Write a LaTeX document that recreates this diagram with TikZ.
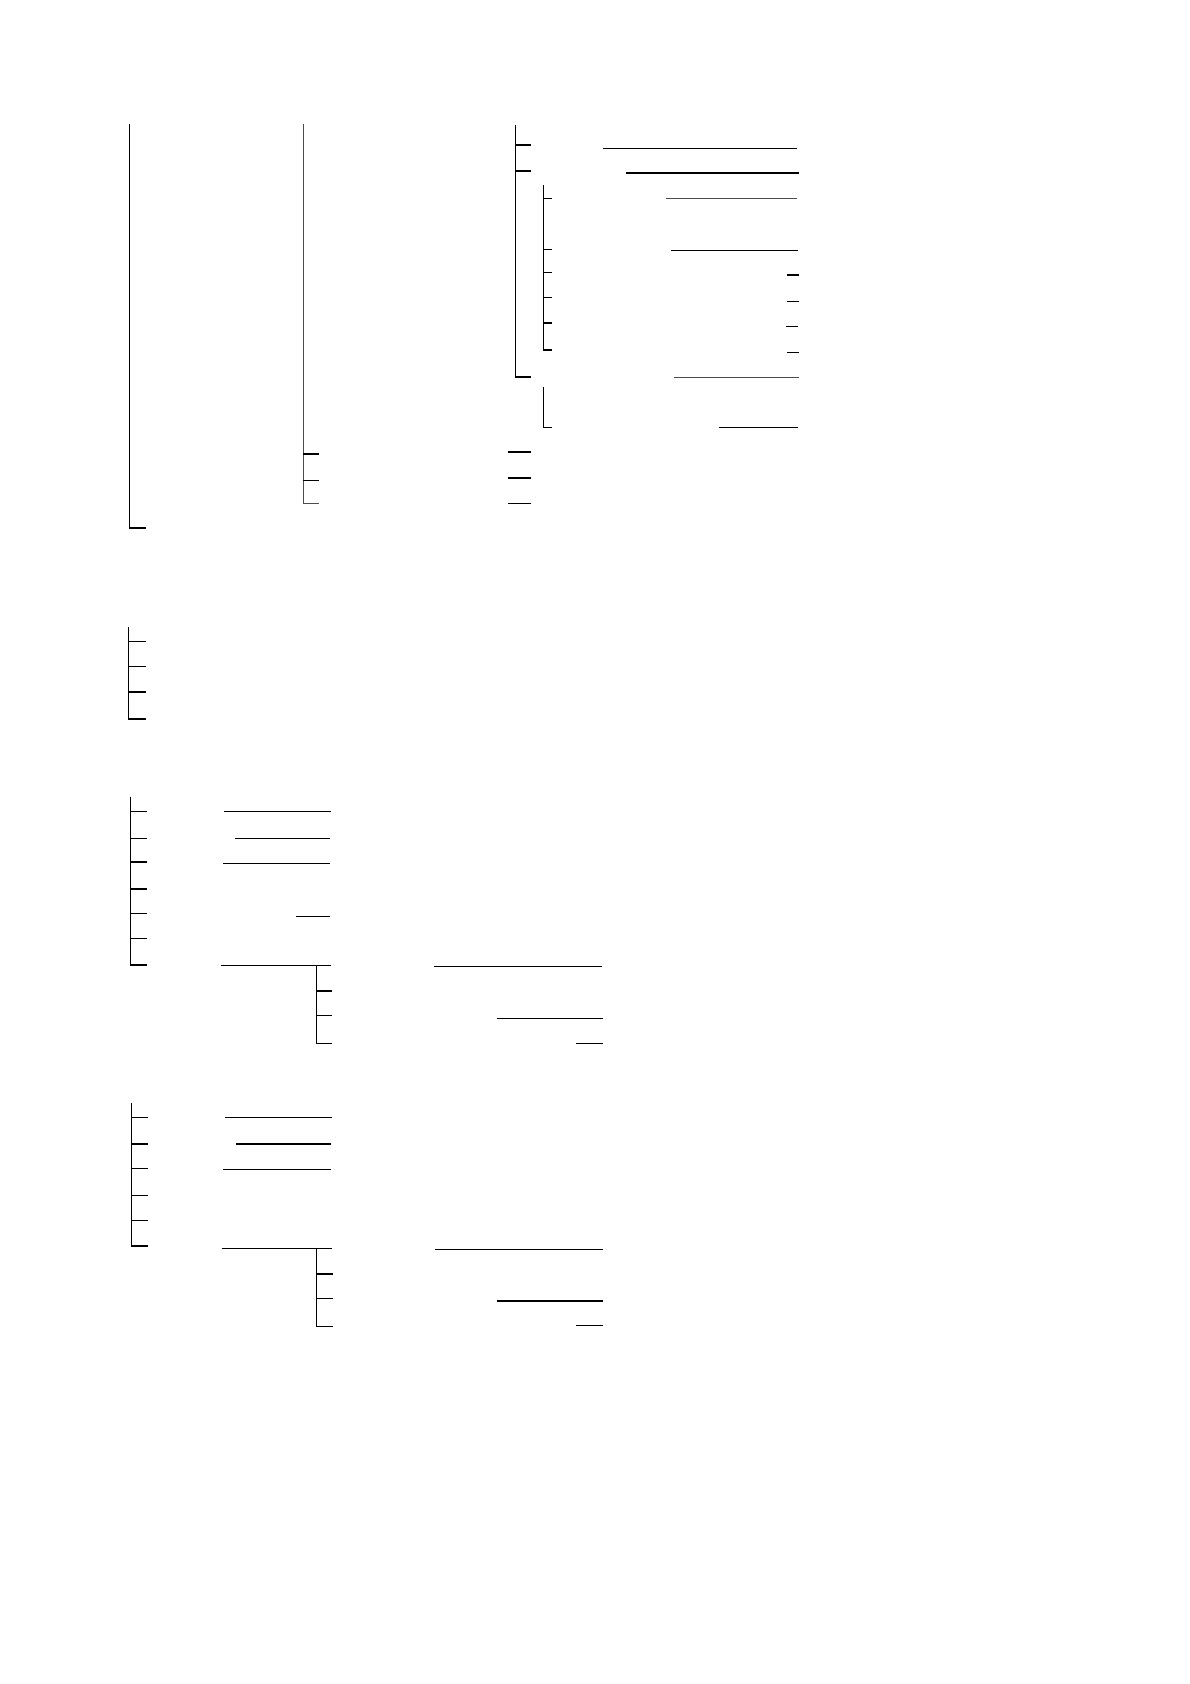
\documentclass[tikz,border=0pt]{standalone}
\begin{document}
\begin{tikzpicture}[x=1pt,y=-1pt,
  ln/.style={line width=1.1pt,black},
  lg/.style={line width=1.1pt,black!70}]
\fill[white] (0,0) rectangle (1190,1684);
\useasboundingbox (0,0) rectangle (1190,1684);
% ---- block 1 ----
\draw[ln] (129.3,124) -- (129.3,528) -- (145.7,528);
\draw[lg] (303.3,124) -- (303.3,503.7) -- (319.3,503.7);
\draw[ln] (303.3,454) -- (319.3,454);
\draw[ln] (303.3,480.3) -- (319.3,480.3);
\draw[ln] (515.3,125) -- (515.3,377) -- (530.7,377);
\draw[ln] (515.3,145) -- (530.7,145);
\draw[ln] (515.3,171) -- (530.7,171);
\draw[ln] (543.3,185.3) -- (543.3,350) -- (551.7,350);
\foreach \yy in {198.3,249.3,272.3,297.3,323} \draw[ln] (543.3,\yy) -- (551.7,\yy);
\draw[ln] (543.3,387) -- (543.3,427.3) -- (551.7,427.3);
\foreach \yy in {452,478,503.3} \draw[ln] (507.7,\yy) -- (531,\yy);
\draw[ln] (603,148.3) -- (797,148.3);
\draw[ln] (626,173) -- (799,173);
\draw[lg] (666,198.7) -- (797,198.7);
\draw[ln] (671.3,250.3) -- (798,250.3);
\draw[ln] (787,275) -- (799,275);
\draw[ln] (787,301.3) -- (799,301.3);
\draw[ln] (786,326.3) -- (798,326.3);
\draw[ln] (787,352.3) -- (799,352.3);
\draw[lg] (674.3,377.3) -- (799,377.3);
\draw[ln] (719,427.3) -- (798,427.3);
% ---- block 2 ----
\draw[ln] (128.7,626.7) -- (128.7,719) -- (145.7,719);
\foreach \yy in {641.3,666.3,692} \draw[ln] (128.7,\yy) -- (145.7,\yy);
% ---- block 3 ----
\draw[ln] (130.5,796.7) -- (130.5,965) -- (147,965);
\foreach \yy in {811.3,838.3,862,889,913.7,938.3} \draw[ln] (130.5,\yy) -- (147,\yy);
\draw[ln] (224.2,811.3) -- (331.1,811.3);
\draw[ln] (235,838.3) -- (329.7,838.3);
\draw[ln] (223.1,863.3) -- (329.7,863.3);
\draw[ln] (296.1,916.3) -- (329.7,916.3);
\draw[ln] (221,965.3) -- (331.1,965.3);
\draw[ln] (316.8,965.3) -- (316.8,1043.3) -- (331.5,1043.3);
\draw[ln] (316.8,991) -- (331.5,991);
\draw[ln] (316.8,1015.3) -- (331.5,1015.3);
\draw[ln] (433.9,966.3) -- (601.9,966.3);
\draw[ln] (497,1018.3) -- (603,1018.3);
\draw[ln] (576,1043.3) -- (603,1043.3);
% ---- block 4 ----
\draw[ln] (131.6,1103.3) -- (131.6,1246) -- (147.7,1246);
\foreach \yy in {1117.3,1144,1168.3,1195.3,1220.3} \draw[ln] (131.6,\yy) -- (147.7,\yy);
\draw[ln] (224.9,1117.3) -- (331.8,1117.3);
\draw[ln] (235.7,1144) -- (331.1,1144);
\draw[ln] (223.1,1169.3) -- (331.1,1169.3);
\draw[ln] (221.7,1248.3) -- (331.8,1248.3);
\draw[ln] (316.8,1248.3) -- (316.8,1326.3) -- (332.5,1326.3);
\draw[ln] (316.8,1274) -- (332.5,1274);
\draw[ln] (316.8,1298.3) -- (332.5,1298.3);
\draw[ln] (435,1249.3) -- (603,1249.3);
\draw[ln] (497,1301) -- (603,1301);
\draw[ln] (576,1325.3) -- (603,1325.3);
\end{tikzpicture}
\end{document}
